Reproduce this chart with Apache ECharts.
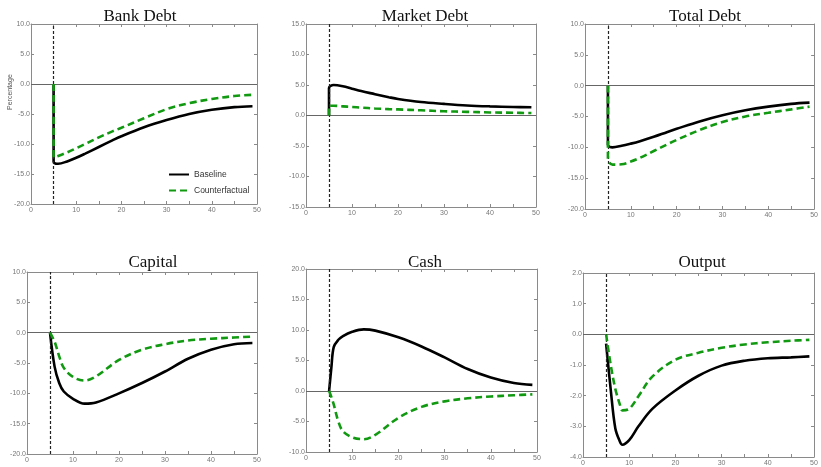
<!DOCTYPE html>
<html>
<head>
<meta charset="utf-8">
<script src="https://cdn.jsdelivr.net/npm/echarts@6/dist/echarts.min.js"></script>
<style>html,body{margin:0;padding:0;background:#fff}#c{width:821px;height:467px}</style>
</head>
<body>
<div id="c"></div>
<script>
// ---- data ----
const titles = ['Bank Debt', 'Market Debt', 'Total Debt', 'Capital', 'Cash', 'Output'];
const seriesNames = ['Baseline', 'Counterfactual'];

const bankPeriods = [5, 5, 6, 8, 10, 12, 15, 18, 20, 25, 30, 35, 40, 45, 49];
const bankBase    = [0, -12.9, -13.3, -12.9, -12.3, -11.6, -10.5, -9.4, -8.7, -7.2, -6.0, -5.0, -4.3, -3.85, -3.7];
const bankCf      = [0, -12.2, -12.0, -11.4, -10.7, -10.0, -8.9, -7.9, -7.3, -5.7, -4.2, -3.2, -2.5, -2.0, -1.8];

const mktPeriods  = [5, 5, 6, 8, 10, 12, 15, 18, 20, 25, 30, 35, 40, 45, 49];
const mktBase     = [0, 4.5, 5.0, 4.8, 4.4, 4.0, 3.5, 3.0, 2.7, 2.2, 1.9, 1.65, 1.5, 1.4, 1.35];
const mktCf       = [0, 1.6, 1.6, 1.5, 1.4, 1.3, 1.15, 1.05, 1.0, 0.85, 0.7, 0.6, 0.5, 0.45, 0.4];

const totPeriods  = [5, 5, 6, 8, 10, 12, 15, 18, 20, 25, 30, 35, 40, 45, 49];
const totBase     = [0, -9.6, -10.0, -9.75, -9.4, -9.0, -8.3, -7.5, -7.0, -5.8, -4.8, -4.0, -3.4, -2.95, -2.75];
const totCf       = [0, -11.8, -12.8, -12.75, -12.3, -11.7, -10.6, -9.5, -8.8, -7.2, -5.9, -5.0, -4.4, -3.85, -3.4];

const capPeriods  = [5, 6, 7, 8, 10, 12.5, 15, 20, 25, 30, 35, 40, 45, 49];
const capBase     = [0, -5.6, -8.3, -9.7, -10.9, -11.7, -11.5, -10.0, -8.3, -6.4, -4.3, -2.8, -1.9, -1.7];
const capCf       = [0, -1.5, -3.9, -5.8, -7.3, -7.9, -7.2, -4.5, -2.8, -1.9, -1.3, -1.0, -0.8, -0.65];

const cashPeriods = [5, 5.5, 6, 7, 8, 10, 12.5, 15, 20, 25, 30, 35, 40, 45, 49];
const cashBase    = [0, 3.9, 7.2, 8.4, 9.0, 9.7, 10.1, 9.9, 8.8, 7.3, 5.5, 3.6, 2.2, 1.3, 1.0];
const cashCf      = [0, -1.0, -2.2, -5.0, -6.6, -7.6, -7.9, -7.2, -4.4, -2.6, -1.7, -1.2, -0.9, -0.7, -0.55];

const outPeriods  = [5, 6, 7, 8, 8.5, 10, 12, 15, 20, 25, 30, 35, 40, 45, 49];
const outBase     = [-0.3, -1.8, -3.07, -3.5, -3.6, -3.45, -3.0, -2.43, -1.83, -1.35, -1.02, -0.86, -0.78, -0.75, -0.72];
const outCf       = [0, -1.0, -1.78, -2.3, -2.48, -2.43, -2.02, -1.38, -0.83, -0.6, -0.44, -0.33, -0.26, -0.21, -0.18];

const yMin = [-20, -15, -20, -20, -10, -4];
const yMax = [10, 15, 10, 10, 20, 2];
const yStep = [5, 5, 5, 5, 5, 1];
const xTicks = [0, 50, 10];
const shockPeriod = 5;

const panels = [
  [bankPeriods, bankBase, bankCf],
  [mktPeriods, mktBase, mktCf],
  [totPeriods, totBase, totCf],
  [capPeriods, capBase, capCf],
  [cashPeriods, cashBase, cashCf],
  [outPeriods, outBase, outCf]
];

// ---- layout ----
const gridBoxes = [
  {left: 31, top: 24, width: 226, height: 180},
  {left: 306, top: 24, width: 230, height: 183},
  {left: 585, top: 24, width: 231, height: 185},
  {left: 27, top: 272, width: 230, height: 182},
  {left: 306, top: 269, width: 231, height: 183},
  {left: 583, top: 273, width: 231, height: 187}
];
const titlePos = [[135, 3], [420, 3], [700, 3], [148, 249], [420, 249], [697, 249]];

const axisColor = '#8a8a8a';
const labelColor = '#777';
const green = '#119a11';

const zip = (xs, ys) => xs.map((x, i) => [x, ys[i]]);

const grid = [], xAxis = [], yAxis = [], series = [], title = [];
panels.forEach((p, i) => {
  grid.push(Object.assign({containLabel: false}, gridBoxes[i]));
  title.push({
    text: titles[i], left: titlePos[i][0], top: titlePos[i][1], textAlign: 'center',
    textStyle: {fontFamily: 'Liberation Serif', fontWeight: 'normal', fontSize: 17, color: '#111'}
  });
  const commonX = {
    type: 'value', gridIndex: i, min: xTicks[0], max: xTicks[1], interval: xTicks[2],
    axisLine: {show: true, onZero: false, lineStyle: {color: axisColor, width: 1}},
    axisTick: {show: true, inside: true, length: 3, lineStyle: {color: axisColor}},
    minorTick: {show: true, splitNumber: 2, length: 3, lineStyle: {color: axisColor}},
    splitLine: {show: false}
  };
  xAxis.push(Object.assign({}, commonX, {
    position: 'bottom',
    axisLabel: {fontSize: 7, color: labelColor, margin: 3, fontFamily: 'Liberation Sans'}
  }));
  xAxis.push(Object.assign({}, commonX, {position: 'top', axisLabel: {show: false}}));
  const commonY = {
    type: 'value', gridIndex: i, min: yMin[i], max: yMax[i], interval: yStep[i],
    axisLine: {show: true, onZero: false, lineStyle: {color: axisColor, width: 1}},
    axisTick: {show: true, inside: true, length: 3, lineStyle: {color: axisColor}},
    splitLine: {show: false}
  };
  yAxis.push(Object.assign({}, commonY, {
    position: 'left',
    axisLabel: {fontSize: 7, color: labelColor, margin: 1, fontFamily: 'Liberation Sans',
      formatter: v => v.toFixed(1)}
  }));
  yAxis.push(Object.assign({}, commonY, {position: 'right', axisLabel: {show: false}}));

  const xi = i * 2, yi = i * 2;
  series.push({
    name: seriesNames[0], type: 'line', xAxisIndex: xi, yAxisIndex: yi,
    data: zip(p[0], p[1]), showSymbol: false, symbol: 'none', smooth: 0.35,
    lineStyle: {color: '#000', width: 2.6}, itemStyle: {color: '#000'}, z: 4,
    markLine: {
      silent: true, symbol: 'none', label: {show: false}, animation: false,
      data: [
        {yAxis: 0, lineStyle: {color: '#666', width: 1, type: 'solid'}},
        {xAxis: shockPeriod, lineStyle: {color: '#222', width: 1.2, type: [3, 2]}}
      ]
    }
  });
  series.push({
    name: seriesNames[1], type: 'line', xAxisIndex: xi, yAxisIndex: yi,
    data: zip(p[0], p[2]), showSymbol: false, symbol: 'none', smooth: 0.35,
    lineStyle: {color: green, width: 2.6, type: [7, 4]}, itemStyle: {color: green}, z: 5
  });
});

const chart = echarts.init(document.getElementById('c'), null, {renderer: 'canvas'});
chart.setOption({
  animation: false,
  backgroundColor: '#fff',
  title,
  grid, xAxis, yAxis, series,
  legend: {
    data: seriesNames, orient: 'vertical', left: 163, top: 165,
    itemWidth: 20, itemHeight: 8, itemGap: 7,
    itemStyle: {opacity: 0},
    textStyle: {fontSize: 8.5, color: '#333', fontFamily: 'Liberation Sans'}
  },
  graphic: [{
    type: 'text', x: 7, y: 110, rotation: Math.PI / 2,
    style: {text: 'Percentage', fontSize: 7, fill: '#555', fontFamily: 'Liberation Sans'}
  }]
});
</script>
</body>
</html>
